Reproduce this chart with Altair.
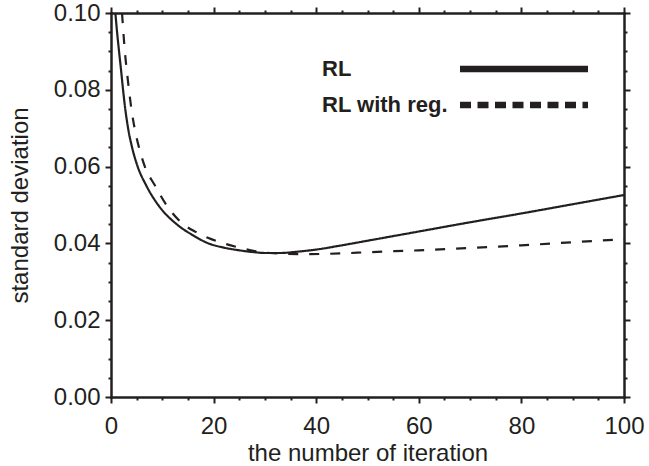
import altair as alt
import pandas as pd

# ---------------- data ----------------
series_names = ["RL", "RL with reg."]

rl_iteration = [0.85, 1.2, 1.57, 2.0, 2.35, 2.8, 3.33, 4.2, 5.2, 6.9, 9.2, 12.8, 16, 19, 22, 25, 28, 30, 33,
                36, 40, 45, 50, 60, 70, 80, 90, 100]
rl_sd = [0.100, 0.0948, 0.090, 0.0846, 0.080, 0.0748, 0.070, 0.0645, 0.060, 0.055, 0.050, 0.045, 0.0421,
         0.0400, 0.0389, 0.0382, 0.0377, 0.0375, 0.0375, 0.0378, 0.0384, 0.0395, 0.0407, 0.0431, 0.0455,
         0.0478, 0.0502, 0.0526]

reg_iteration = [2.15, 2.4, 2.7, 3.1, 3.5, 4.0, 4.6, 5.5, 6.6, 8.6, 10.8, 14.1, 16.5, 19, 22, 25, 28, 31, 34,
                 38, 45, 50, 60, 70, 80, 90, 100]
reg_sd = [0.100, 0.0952, 0.090, 0.0848, 0.080, 0.0748, 0.070, 0.0648, 0.060, 0.055, 0.050, 0.045, 0.0430,
          0.0414, 0.0400, 0.0389, 0.0380, 0.0375, 0.0373, 0.0372, 0.0374, 0.0377, 0.0382, 0.0388, 0.0395,
          0.0403, 0.0411]

x_tick_values = list(range(0, 101, 5))
y_tick_values = [round(i * 0.005, 3) for i in range(21)]

df = pd.concat([
    pd.DataFrame({"iteration": rl_iteration, "sd": rl_sd, "series": series_names[0]}),
    pd.DataFrame({"iteration": reg_iteration, "sd": reg_sd, "series": series_names[1]}),
], ignore_index=True)
legend_df = pd.DataFrame({"label": series_names})

# ---------------- styling ----------------
FONT = "Liberation Sans"
INK = "#231f20"
LABEL_FS = 24
TITLE_FS = 24

x_scale = alt.Scale(domain=[0, 100], nice=False, zero=False)
y_scale = alt.Scale(domain=[0, 0.1], nice=False, zero=False)

x_major = "datum.value % 20 === 0"
y_major = "round(datum.value * 1000) % 20 === 0"


def tick_size(test):
    return {"condition": {"test": test, "value": 6}, "value": 3}


axis_common = dict(
    domainColor=INK, domainWidth=2.5, domainCap="square",
    tickColor=INK, tickWidth=2, grid=False, labelOverlap=False, labelFlush=False,
)

bottom_axis = alt.Axis(
    orient="bottom", values=x_tick_values, tickSize=tick_size(x_major),
    labelExpr=f"{x_major} ? datum.label : ''", labelPadding=11,
    title="the number of iteration", titlePadding=3, **axis_common,
)
top_axis = alt.Axis(
    orient="top", values=x_tick_values, tickSize=tick_size(x_major),
    labels=False, title=None, **axis_common,
)
left_axis = alt.Axis(
    orient="left", values=y_tick_values, tickSize=tick_size(y_major),
    labelExpr=f"{y_major} ? format(datum.value, '.2f') : ''", labelPadding=5,
    title="standard deviation", titlePadding=21, **axis_common,
)
right_axis = alt.Axis(
    orient="right", values=y_tick_values, tickSize=tick_size(y_major),
    labels=False, title=None, **axis_common,
)

curves = alt.Chart(df).mark_line(
    color=INK, strokeWidth=2.2, clip=True, interpolate="monotone"
).encode(
    x=alt.X("iteration:Q", scale=x_scale, axis=bottom_axis),
    y=alt.Y("sd:Q", scale=y_scale, axis=left_axis),
    strokeDash=alt.StrokeDash("series:N", scale=alt.Scale(domain=series_names, range=[[1, 0], [10, 11]]),
                              legend=None),
)

frame = alt.Chart(df).mark_line(opacity=0).encode(
    x=alt.X("iteration:Q", scale=x_scale, axis=top_axis),
    y=alt.Y("sd:Q", scale=y_scale, axis=right_axis),
    detail="series:N",
)

legend_y = alt.Y("label:N", scale=alt.Scale(type="point", domain=series_names, range=[56, 92], padding=0),
                 axis=None)

legend_text = alt.Chart(legend_df).mark_text(
    align="left", baseline="middle", font=FONT, fontSize=22, fontWeight="bold", color=INK
).encode(x=alt.value(211), y=legend_y, text="label:N")

legend_rule = alt.Chart(legend_df).mark_rule(color=INK, strokeWidth=6.5).encode(
    x=alt.value(349), x2=alt.value(477), y=legend_y,
    strokeDash=alt.StrokeDash("label:N", scale=alt.Scale(domain=series_names, range=[[1, 0], [11, 6.5]]),
                              legend=None),
)

chart = alt.layer(curves, frame, legend_rule, legend_text).resolve_scale(
    y="independent", strokeDash="independent"
).resolve_axis(
    x="independent", y="independent"
).properties(
    width=513, height=384,
    autosize=alt.AutoSizeParams(type="none"),
    padding={"left": 111, "top": 13, "right": 25, "bottom": 69},
    background="white",
).configure_view(
    stroke=None
).configure_axis(
    labelFont=FONT, labelFontSize=LABEL_FS, labelColor=INK,
    titleFont=FONT, titleFontSize=TITLE_FS, titleFontWeight="normal", titleColor=INK,
)

chart.save("out.html", embed_options={"renderer": "svg", "actions": False})
